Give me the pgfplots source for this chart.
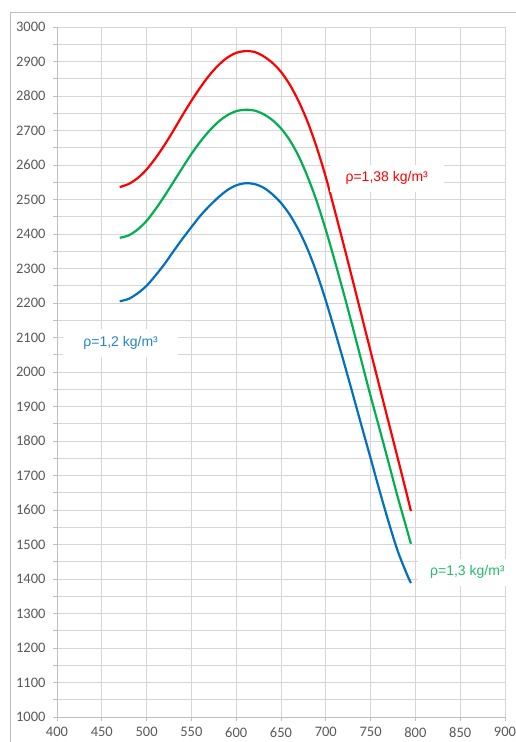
\documentclass[border=0pt]{standalone}
\usepackage{fontspec}
\setmainfont{Carlito}
\newfontfamily\arial{Liberation Sans}
\usepackage{pgfplots}
\pgfplotsset{compat=1.18}
\definecolor{exred}{RGB}{255,0,0}
\definecolor{exgreen}{RGB}{0,176,80}
\definecolor{exblue}{RGB}{0,112,192}
\definecolor{ticktext}{RGB}{89,89,89}
\definecolor{gridc}{RGB}{214,214,214}
\definecolor{axc}{RGB}{191,191,191}
\begin{document}
\begin{tikzpicture}[x=1pt,y=1pt]
\useasboundingbox (0,0) rectangle (515,742);
\draw[axc, line width=1pt] (10,-5) -- (10,729.5) -- (520,729.5);
\begin{axis}[
  at={(57pt,25pt)}, anchor=south west,
  width=448pt, height=690pt, scale only axis,
  xmin=400, xmax=900, ymin=1000, ymax=3000,
  xtick distance=50, ytick distance=100, minor y tick num=1,
  grid=both,
  major grid style={gridc, line width=0.9pt},
  minor grid style={gridc, line width=0.9pt},
  axis lines*=left,
  axis line style={axc, line width=0.9pt},
  tick align=outside,
  major tick length=4pt, minor tick length=4pt,
  every tick/.style={axc, line width=0.9pt},
  xtick pos=bottom, ytick pos=left,
  tick label style={font=\fontsize{14.5}{16}\selectfont, text=ticktext},
  /pgf/number format/assume math mode=true,
  /pgf/number format/1000 sep={},
  xticklabel style={yshift=-3pt},
  yticklabel style={xshift=-4pt},
  clip=false,
]
\addplot[exred, line width=2.2pt, smooth] coordinates {
(470,2536)(480,2545)(490,2562)(500,2587)(510,2620)(520,2658)(530,2700)(540,2744)(550,2786)(560,2825)(570,2860)(580,2889)(590,2911)(600,2925)(610,2930)(620,2928)(630,2916)(640,2897)(650,2870)(660,2832)(670,2783)(680,2723)(690,2650)(700,2565)(710,2468)(720,2368)(730,2266)(740,2163)(750,2060)(760,1957)(770,1855)(780,1753)(790,1650)(795,1597)};
\addplot[exgreen, line width=2.2pt, smooth] coordinates {
(470,2389)(480,2396)(490,2413)(500,2438)(510,2472)(520,2510)(530,2551)(540,2592)(550,2632)(560,2668)(570,2699)(580,2725)(590,2744)(600,2756)(610,2760)(620,2758)(630,2748)(640,2731)(650,2706)(660,2671)(670,2624)(680,2564)(690,2494)(700,2412)(710,2322)(720,2228)(730,2130)(740,2030)(750,1930)(760,1835)(770,1738)(780,1640)(790,1548)(795,1502)};
\addplot[exblue, line width=2.2pt, smooth] coordinates {
(470,2205)(480,2212)(490,2228)(500,2250)(510,2280)(520,2313)(530,2350)(540,2386)(550,2420)(560,2453)(570,2481)(580,2506)(590,2527)(600,2541)(610,2547)(620,2545)(630,2535)(640,2516)(650,2490)(660,2455)(670,2410)(680,2354)(690,2286)(700,2207)(710,2120)(720,2030)(730,1937)(740,1843)(750,1750)(760,1656)(770,1566)(780,1483)(790,1417)(795,1388)};
\node[fill=white, inner xsep=16pt, inner ysep=7pt, text=exred, font=\arial\fontsize{14}{16}\selectfont] at (axis cs:768,2562) {ρ=1,38 kg/m³};
\node[fill=white, inner xsep=20pt, inner ysep=7pt, text=exblue!85, font=\arial\fontsize{14}{16}\selectfont] at (axis cs:471,2084) {ρ=1,2 kg/m³};
\node[fill=white, inner xsep=12pt, inner ysep=7pt, text=exgreen!85, font=\arial\fontsize{14}{16}\selectfont] at (axis cs:858,1420) {ρ=1,3 kg/m³};
\end{axis}
\end{tikzpicture}
\end{document}
